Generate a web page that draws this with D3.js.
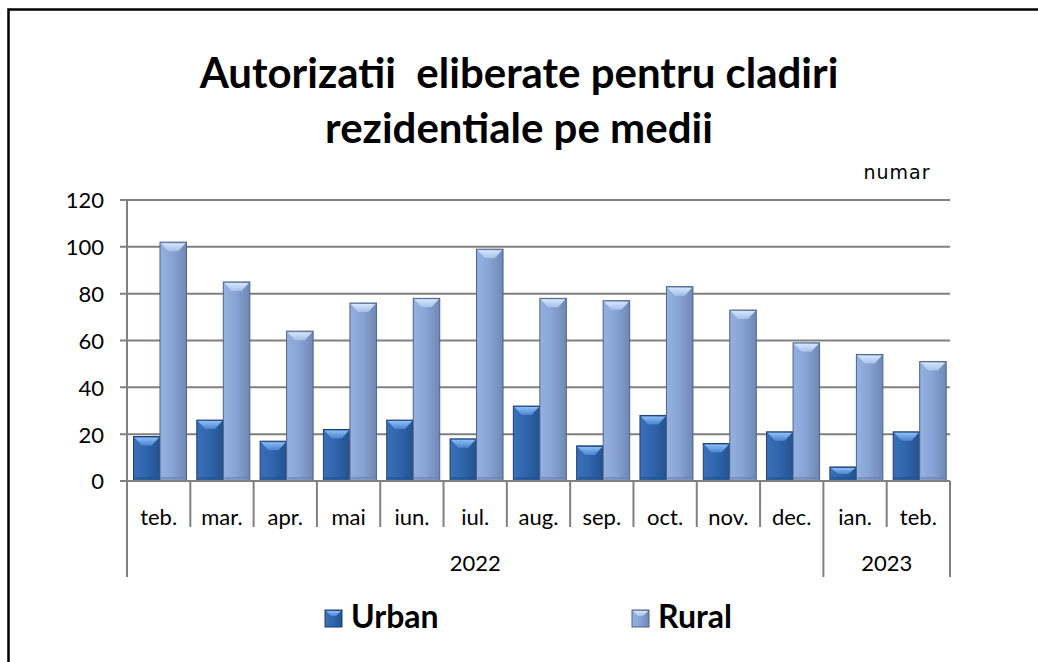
<!DOCTYPE html>
<html><head><meta charset="utf-8">
<script src="https://cdn.jsdelivr.net/npm/d3@7"></script>
<style>
html,body{margin:0;padding:0;background:#fff;overflow:hidden;}
svg{display:block;}
</style></head>
<body>
<svg id="chart" width="1038" height="662"></svg>
<script>
const months = ["teb.","mar.","apr.","mai","iun.","iul.","aug.","sep.","oct.","nov.","dec.","ian.","teb."];
const years = [{label:"2022", count:11},{label:"2023", count:2}];
const seriesNames = ["Urban","Rural"];
const urban = [19,26,17,22,26,18,32,15,28,16,21,6,21];
const rural = [102,85,64,76,78,99,78,77,83,73,59,54,51];
const yTicks = [0,20,40,60,80,100,120];
const titleLines = ["Autorizatii  eliberate pentru cladiri","rezidentiale pe medii"];
const unitLabel = "numar";

const svg = d3.select("#chart");
const L = 127, R = 950, T = 200, B = 481;
const keys = months.map((m,i)=>i);
const x = d3.scaleBand().domain(keys).range([L,R]).padding(0);
const xs = d3.scaleBand().domain(seriesNames).range([6.5, 59.5]).padding(0);
const y = d3.scaleLinear().domain([0,120]).range([B,T]);
const FONT = "Lato, 'Open Sans', sans-serif";

const defs = svg.append("defs");
function grad(id, stops, horiz=true){
  const g = defs.append("linearGradient").attr("id",id)
    .attr("x1","0").attr("y1","0").attr("x2",horiz?"1":"0").attr("y2",horiz?"0":"1");
  stops.forEach(s=>g.append("stop").attr("offset",s[0]).attr("stop-color",s[1]));
}
grad("gU",[["0","#3A70B8"],["0.45","#2F66AC"],["1","#24528F"]]);
grad("gR",[["0","#95B1E0"],["0.45","#89A5D6"],["1","#6F88B5"]]);
grad("gUt",[["0","#8DBDF5"],["1","#4A84CF"]],false);
grad("gRt",[["0","#D5E6FB"],["1","#A6C0EA"]],false);
grad("gUs",[["0","#1E4A86"],["1","#2A5C9E"]],false);
grad("gRs",[["0","#62789F"],["1","#7F97C2"]],false);

// frame (top and left edges visible)
svg.append("path").attr("d","M8.5,662L8.5,9.5L1038,9.5")
  .attr("fill","none").attr("stroke","#000").attr("stroke-width",2.5);

// title
svg.append("g").selectAll("text").data(titleLines).join("text")
  .attr("x",519).attr("y",(d,i)=>88+i*55)
  .attr("text-anchor","middle").style("white-space","pre")
  .attr("font-family",FONT).attr("font-weight","bold")
  .attr("font-size",42).attr("fill","#000").text(d=>d);

svg.append("text").attr("x",897).attr("y",179).attr("text-anchor","middle")
  .attr("font-family","'DejaVu Sans', Verdana, sans-serif").attr("font-size",19)
  .attr("letter-spacing",1)
  .attr("fill","#000").text(unitLabel);

// gridlines
svg.append("g").selectAll("line").data(yTicks).join("line")
  .attr("x1",L-7).attr("x2",R).attr("y1",d=>y(d)).attr("y2",d=>y(d))
  .attr("stroke","#808080").attr("stroke-width",2);

// y axis labels
const yAxis = d3.axisLeft(y).tickValues(yTicks).tickSize(0).tickPadding(0);
const yg = svg.append("g").attr("transform",`translate(${L-23},0)`).call(yAxis);
yg.select(".domain").remove();
yg.selectAll("text").attr("font-family",FONT).attr("font-size",22).attr("fill","#000").attr("dy","0.36em");

// y axis line
svg.append("line").attr("x1",L).attr("x2",L).attr("y1",T).attr("y2",B+96)
  .attr("stroke","#808080").attr("stroke-width",2);

// bars
const data = keys.map(i=>({i, vals:[{s:"Urban",v:urban[i]},{s:"Rural",v:rural[i]}]}));
const grp = svg.append("g").selectAll("g").data(data).join("g")
  .attr("transform",d=>`translate(${x(d.i)},0)`);
const bar = grp.selectAll("g").data(d=>d.vals).join("g");
const bw = xs.bandwidth();
bar.append("rect")
  .attr("x",d=>xs(d.s)).attr("y",d=>y(d.v)).attr("width",bw).attr("height",d=>B-y(d.v))
  .attr("fill",d=>d.s==="Urban"?"url(#gU)":"url(#gR)")
  .attr("stroke",d=>d.s==="Urban"?"#1E3F6E":"#4E6286").attr("stroke-width",1);
bar.append("path")
  .attr("d",d=>{const x0=xs(d.s), y0=y(d.v), h=Math.min(9, (B-y(d.v))/2);
    return `M${x0+1},${y0+1}L${x0+bw-1},${y0+1}L${x0+bw/2+5},${y0+h}L${x0+bw/2-5},${y0+h}Z`;})
  .attr("fill",d=>d.s==="Urban"?"url(#gUt)":"url(#gRt)");
bar.append("rect")
  .attr("x",d=>xs(d.s)+1).attr("y",B-4).attr("width",bw-2).attr("height",3)
  .attr("fill",d=>d.s==="Urban"?"url(#gUs)":"url(#gRs)").attr("opacity",0.6);

// x axis baseline
svg.append("line").attr("x1",L-7).attr("x2",R).attr("y1",B).attr("y2",B)
  .attr("stroke","#808080").attr("stroke-width",2);

// month separators
const sepX = keys.map(i=>x(i)).concat([R]);
const yearStarts = [0]; years.reduce((a,yv)=>{a+=yv.count; yearStarts.push(a); return a;},0);
svg.append("g").selectAll("line").data(sepX).join("line")
  .attr("x1",d=>d).attr("x2",d=>d).attr("y1",B)
  .attr("y2",(d,i)=>yearStarts.includes(i)?B+96:B+46)
  .attr("stroke","#808080").attr("stroke-width",2);

// month labels
svg.append("g").selectAll("text").data(keys).join("text")
  .attr("x",i=>x(i)+x.bandwidth()/2).attr("y",B+44)
  .attr("text-anchor","middle").attr("font-family",FONT)
  .attr("font-size",22).attr("fill","#000").text(i=>months[i]);

// year labels
let acc=0;
const yearPos = years.map(yv=>{const s=acc; acc+=yv.count; return {label:yv.label, x0:x(s), x1:(acc<keys.length?x(acc):R)};});
svg.append("g").selectAll("text").data(yearPos).join("text")
  .attr("x",d=>(d.x0+d.x1)/2).attr("y",B+90)
  .attr("text-anchor","middle").attr("font-family",FONT)
  .attr("font-size",22).attr("fill","#000").text(d=>d.label);

// legend
const legX = [325, 632];
const lg = svg.append("g").selectAll("g").data(seriesNames).join("g")
  .attr("transform",(d,i)=>`translate(${legX[i]},610)`);
lg.append("rect").attr("width",17).attr("height",17)
  .attr("fill",d=>d==="Urban"?"url(#gU)":"url(#gR)")
  .attr("stroke",d=>d==="Urban"?"#1E3F6E":"#4E6286").attr("stroke-width",1);
lg.append("path").attr("d","M1,1L16,1L11,6L6,6Z")
  .attr("fill",d=>d==="Urban"?"url(#gUt)":"url(#gRt)");
lg.append("text").attr("x",26).attr("y",18).attr("font-family",FONT)
  .attr("font-weight","bold").attr("font-size",32).attr("fill","#000").text(d=>d);
</script>
</body></html>
